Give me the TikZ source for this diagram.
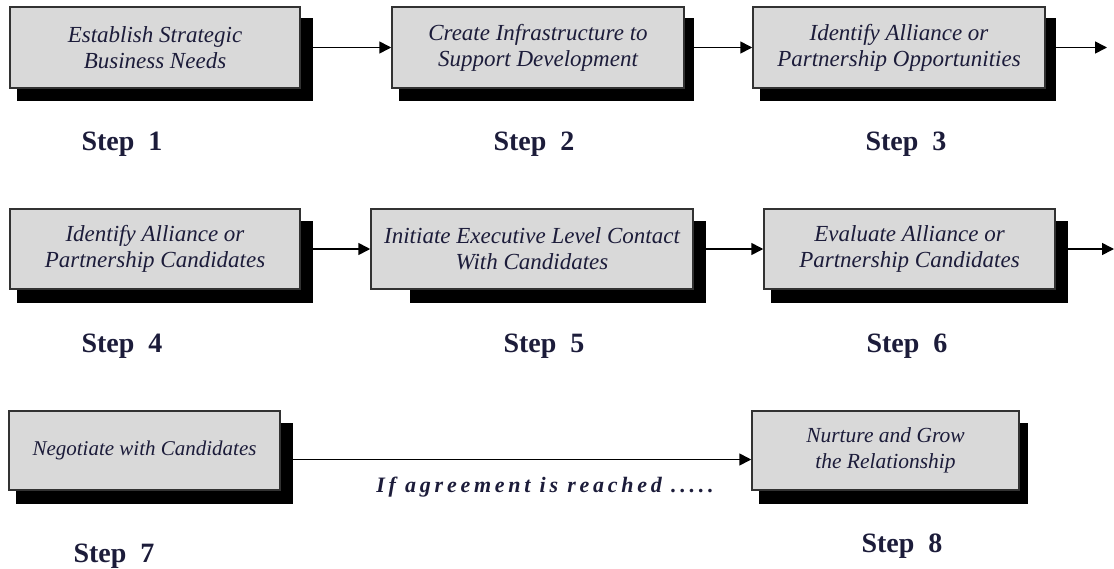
\documentclass[tikz,border=0pt]{standalone}
\usepackage{fontspec}
\setmainfont{Liberation Serif}
\usetikzlibrary{arrows.meta,backgrounds}
\definecolor{ink}{RGB}{28,28,58}
\definecolor{boxfill}{RGB}{217,217,217}
\definecolor{boxline}{RGB}{50,50,50}
\begin{document}
\begin{tikzpicture}[x=1pt,y=-1pt,
  stepbox/.style={draw=boxline,line width=1.5pt,fill=boxfill,
    inner sep=0pt,align=center,text=ink,
    font=\itshape\fontsize{23}{26}\selectfont},
  steplabel/.style={anchor=base,text=ink,font=\bfseries\fontsize{28}{32}\selectfont},
  flow/.style={line width=1.6pt,-{Triangle[length=12pt,width=12pt]}},
  shadowfill/.style={fill=black}]
\useasboundingbox (0,0) rectangle (1114,568);

% row 1
\node[stepbox,minimum width=290pt,minimum height=81pt] (b1) at (155,47.5)
  {Establish Strategic\\Business Needs};
\node[stepbox,minimum width=292pt,minimum height=81pt] (b2) at (538,47.5)
  {Create Infrastructure to\\Support Development};
\node[stepbox,minimum width=292pt,minimum height=81pt] (b3) at (899,47.5)
  {Identify Alliance or\\Partnership Opportunities};
% row 2
\node[stepbox,minimum width=290pt,minimum height=80pt] (b4) at (155,249)
  {Identify Alliance or\\Partnership Candidates};
\node[stepbox,minimum width=322pt,minimum height=80pt] (b5) at (532,249)
  {Initiate\ Executive\ Level\ Contact\\With Candidates};
\node[stepbox,minimum width=291pt,minimum height=80pt] (b6) at (909.5,249)
  {Evaluate Alliance or\\Partnership Candidates};
% row 3
\node[stepbox,minimum width=271pt,minimum height=79pt,font=\itshape\fontsize{21}{26}\selectfont] (b7) at (144.5,450.5)
  {Negotiate with Candidates};
\node[stepbox,minimum width=267pt,minimum height=79pt,font=\itshape\fontsize{21.5}{26}\selectfont] (b8) at (885.5,450.5)
  {Nurture and Grow\\the Relationship};

% drop shadows behind the boxes
\begin{scope}[on background layer]
  \fill[shadowfill] ([shift={(8,12)}]b1.north west) rectangle ([shift={(12,12)}]b1.south east);
  \fill[shadowfill] ([shift={(8,12)}]b2.north west) rectangle ([shift={(9,12)}]b2.south east);
  \fill[shadowfill] ([shift={(8,12)}]b3.north west) rectangle ([shift={(10,12)}]b3.south east);
  \fill[shadowfill] ([shift={(8,13)}]b4.north west) rectangle ([shift={(12,13)}]b4.south east);
  \fill[shadowfill] ([shift={(40,13)}]b5.north west) rectangle ([shift={(12,13)}]b5.south east);
  \fill[shadowfill] ([shift={(8,13)}]b6.north west) rectangle ([shift={(12,13)}]b6.south east);
  \fill[shadowfill] ([shift={(8,13)}]b7.north west) rectangle ([shift={(12,13)}]b7.south east);
  \fill[shadowfill] ([shift={(8,13)}]b8.north west) rectangle ([shift={(8,13)}]b8.south east);
\end{scope}

% connectors
\coordinate (out3) at (1107,47.5);
\coordinate (out6) at (1114,249);
\draw[flow] ([xshift=12pt]b1.east) -- (b2.west);
\draw[flow] ([xshift=9pt]b2.east) -- (b3.west);
\draw[flow] ([xshift=10pt]b3.east) -- (out3);
\draw[flow] ([xshift=12pt]b4.east) -- (b5.west);
\draw[flow] ([xshift=12pt]b5.east) -- (b6.west);
\draw[flow] ([xshift=12pt]b6.east) -- (out6);
\draw[flow] ([shift={(12,9)}]b7.east) -- ([yshift=-9pt]b8.west);

% step labels
\node[steplabel] (s1) at (122,150) {Step\ \ 1};
\node[steplabel] (s2) at (534,150) {Step\ \ 2};
\node[steplabel] (s3) at (906,150) {Step\ \ 3};
\node[steplabel] (s4) at (122,352) {Step\ \ 4};
\node[steplabel] (s5) at (544,352) {Step\ \ 5};
\node[steplabel] (s6) at (907,352) {Step\ \ 6};
\node[steplabel] (s7) at (114,562) {Step\ \ 7};
\node[steplabel] (s8) at (902,552) {Step\ \ 8};

\node[anchor=base,text=ink,font=\bfseries\itshape\fontsize{22}{26}\selectfont\addfontfeature{LetterSpace=17}] (cond) at (545,492) {If agreement is reached .....};
\end{tikzpicture}
\end{document}
